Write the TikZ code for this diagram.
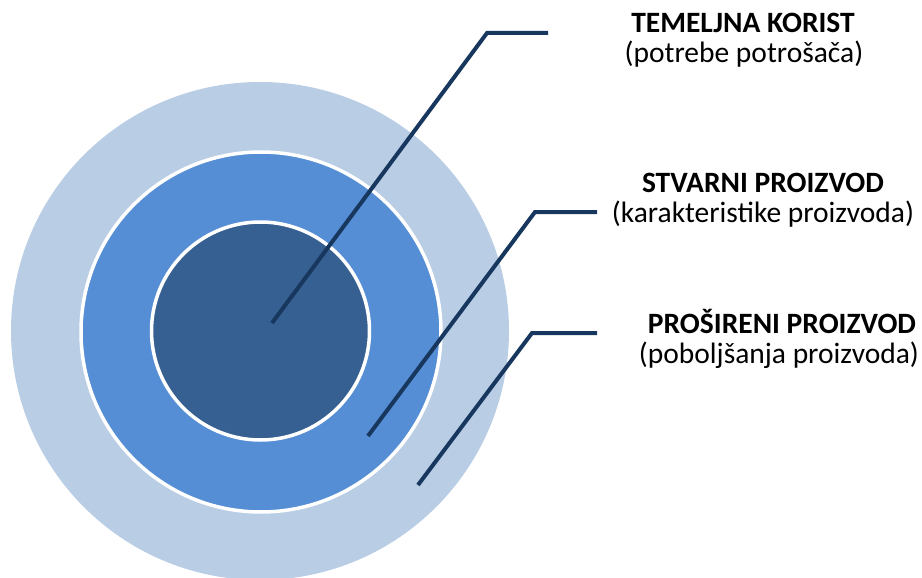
\documentclass[tikz,border=0pt]{standalone}
\usepackage{fontspec}
\setmainfont{Carlito}
\definecolor{outerc}{RGB}{185,205,229}
\definecolor{midc}{RGB}{85,142,213}
\definecolor{innerc}{RGB}{55,96,146}
\definecolor{linec}{RGB}{23,55,94}
\begin{document}
\begin{tikzpicture}[x=1pt,y=-1pt,
  ring/.style={draw=white,line width=3.5pt},
  leader/.style={draw=linec,line width=4pt},
  title/.style={font=\fontsize{29.5}{34}\selectfont\bfseries,anchor=base,inner sep=0pt},
  sub/.style={font=\fontsize{29.5}{34}\selectfont,anchor=base,inner sep=0pt}]
\useasboundingbox (0,0) rectangle (922,578);
\begin{scope}
\clip (0,0) rectangle (922,578);
\fill[outerc] (260,331) circle (249);
\end{scope}
\path[ring,fill=midc] (261,332) circle (180);
\path[ring,fill=innerc] (260.5,331) circle (109);
% labels
\node[title] (t1) at (743,33) {TEMELJNA KORIST};
\node[sub] (s1) at (744,63) {(potrebe potrošača)};
\node[title] (t2) at (763,192) {STVARNI PROIZVOD};
\node[sub] (s2) at (763,222) {(karakteristike proizvoda)};
\node[title] (t3) at (782,333) {PROŠIRENI PROIZVOD};
\node[sub] (s3) at (779,363) {(poboljšanja proizvoda)};
% leader points
\coordinate (a1) at (272,323);
\coordinate (b1) at (487,33);
\coordinate (c1) at (548,33);
\coordinate (a2) at (368,436);
\coordinate (b2) at (535,212);
\coordinate (c2) at (597,212);
\coordinate (a3) at (418,485);
\coordinate (b3) at (532,333);
\coordinate (c3) at (597,333);
\draw[leader] (a1) -- (b1) -- (c1);
\draw[leader] (a2) -- (b2) -- (c2);
\draw[leader] (a3) -- (b3) -- (c3);
\end{tikzpicture}
\end{document}
